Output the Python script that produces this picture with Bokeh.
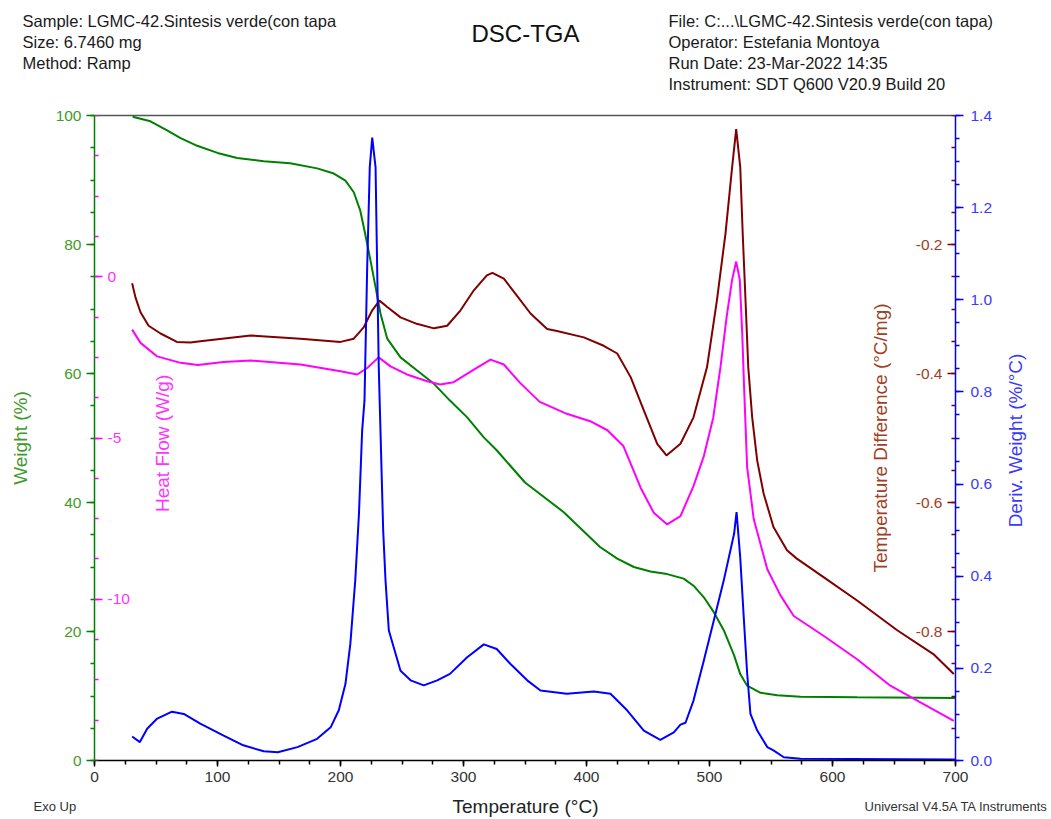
import math
import numpy as np
from bokeh.plotting import figure
from bokeh.layouts import column, row
from bokeh.models import Range1d, LinearAxis, FixedTicker, PrintfTickFormatter
from bokeh.core.properties import value
from bokeh.embed import file_html
from bokeh.resources import INLINE

# ---- TGA: weight (%) ----
weight_temp = [31, 45.5, 59, 70, 83.5, 100, 116, 137.6, 159, 181, 194.6, 204, 210.8, 216,
               220, 224.4, 228.5, 232.5, 238, 248.8, 262, 276, 289, 303, 316.5, 327, 350,
               381.5, 411, 425, 438.5, 452, 465.6, 479, 487, 495.4, 503.5, 511.6, 520, 525,
               530.6, 541.5, 555, 574, 620, 700]
weight_pct = [99.8, 99.1, 97.7, 96.5, 95.3, 94.2, 93.4, 92.9, 92.6, 91.8, 91.0, 89.9, 88.1,
              85.3, 81.7, 77.5, 73.4, 69.3, 65.4, 62.5, 60.5, 58.4, 55.8, 53.2, 50.1, 48.1,
              43.1, 38.5, 33.1, 31.3, 30.0, 29.3, 28.9, 28.2, 27.1, 25.3, 23.0, 20.2, 16.3,
              13.4, 11.6, 10.5, 10.1, 9.9, 9.8, 9.7]

# ---- DTA: temperature difference (°C/mg) ----
tdiff_temp = [30.6, 33.3, 37.4, 44, 53.7, 67, 78, 86, 127, 167.5, 200, 210.8, 219, 225.8,
              231.7, 238, 248.8, 262, 276, 286.7, 297.6, 308.4, 319, 323.5, 332.8, 343.7,
              354.5, 368, 376, 397.8, 414, 425, 436, 446.6, 457.5, 465, 476.4, 487, 498, 506,
              513, 518.4, 521.7, 525, 527, 529.3, 531.5, 534.7, 538.8, 544, 552, 563, 571,
              593, 620, 652.6, 682, 698.6]
tdiff = [-0.260, -0.282, -0.305, -0.326, -0.338, -0.351, -0.352, -0.350, -0.341, -0.346,
         -0.351, -0.346, -0.328, -0.302, -0.287, -0.297, -0.313, -0.323, -0.330, -0.326,
         -0.302, -0.271, -0.248, -0.244, -0.253, -0.280, -0.307, -0.331, -0.334, -0.344,
         -0.357, -0.369, -0.406, -0.457, -0.509, -0.527, -0.509, -0.468, -0.390, -0.287,
         -0.183, -0.080, -0.021, -0.080, -0.183, -0.287, -0.390, -0.468, -0.535, -0.586,
         -0.638, -0.674, -0.687, -0.716, -0.752, -0.798, -0.835, -0.866]

# ---- DSC: heat flow (W/g) ----
hf_temp = [30.6, 37.4, 51, 70, 84, 105, 127, 167.5, 200, 213.6, 221.7, 231, 240.7, 254,
           270.5, 281, 292, 308.4, 322, 332.8, 346, 362, 384, 403, 417, 430, 444, 454.7,
           465.6, 476.4, 487, 495.4, 503, 509, 514, 518.4, 521.7, 524.6, 526.6, 528, 529.3,
           530.6, 536, 547, 557.7, 568.5, 593, 620, 647, 674, 698.6]
heat_flow = [-1.64, -2.05, -2.47, -2.67, -2.74, -2.64, -2.60, -2.72, -2.93, -3.03, -2.83,
             -2.50, -2.78, -3.03, -3.24, -3.34, -3.27, -2.88, -2.57, -2.72, -3.29, -3.88,
             -4.25, -4.48, -4.76, -5.25, -6.54, -7.32, -7.68, -7.42, -6.49, -5.56, -4.38,
             -2.78, -1.23, -0.09, 0.47, -0.09, -1.74, -3.29, -4.60, -5.90, -7.52, -9.07,
             -9.88, -10.52, -11.14, -11.86, -12.68, -13.25, -13.77]

# ---- DTG: derivative weight (%/°C) ----
dtg_temp = [30.6, 36.9, 42.8, 51, 63, 72.6, 86, 105, 121, 137.6, 149, 165, 181, 192, 198.6,
            204, 208, 212, 215, 217.6, 219.5, 221.7, 223.8, 225.8, 228.5, 229.8, 231.1,
            232.5, 234.7, 236.6, 239.3, 248.8, 257, 267.7, 278.6, 289, 303, 316.5, 327, 338,
            351.8, 362.6, 384, 406, 419.5, 433, 446.6, 460, 471, 476.4, 480.5, 487, 495.4,
            503.5, 511.6, 520, 522, 525, 528, 530.6, 533.3, 538.8, 547, 552, 560.4, 574, 700]
deriv_weight = [0.052, 0.040, 0.069, 0.091, 0.106, 0.101, 0.080, 0.054, 0.033, 0.020, 0.018,
                0.029, 0.047, 0.072, 0.109, 0.166, 0.253, 0.391, 0.535, 0.716, 0.781, 1.071,
                1.288, 1.352, 1.288, 1.071, 0.854, 0.716, 0.499, 0.391, 0.282, 0.195, 0.174,
                0.163, 0.174, 0.188, 0.224, 0.252, 0.242, 0.210, 0.174, 0.152, 0.145, 0.150,
                0.145, 0.109, 0.065, 0.045, 0.061, 0.078, 0.082, 0.130, 0.217, 0.304, 0.391,
                0.492, 0.539, 0.440, 0.304, 0.190, 0.101, 0.065, 0.029, 0.022, 0.007, 0.004,
                0.002]

# ---- page texts ----
header_left = ["Sample: LGMC-42.Sintesis verde(con tapa", "Size:  6.7460 mg", "Method: Ramp"]
header_right = ["File: C:...\\LGMC-42.Sintesis verde(con tapa)", "Operator: Estefania Montoya",
                "Run Date: 23-Mar-2022 14:35", "Instrument: SDT Q600 V20.9 Build 20"]
chart_title = "DSC-TGA"
footer_left = "Exo Up"
footer_right = "Universal V4.5A TA Instruments"
x_title = "Temperature (°C)"
dtg_title = "Deriv. Weight (%/°C)"

FONT = "Liberation Sans"
W = 1051
SIDE_W = 50
HEADER_H, MAIN_H, FOOTER_H = 100, 692, 27
GREEN, GREEN_TXT = "#008000", "#3f9a2a"
BROWN, BROWN_TXT = "#800000", "#a0401e"
MAGENTA, MAGENTA_TXT = "#ff00ff", "#ff33ff"
BLUE, BLUE_TXT = "#0000ff", "#3a3aff"
TICK_FS = "15.5px"
LABEL_FS = "19px"

# ---------------- main plot ----------------
p = figure(width=W - SIDE_W, height=MAIN_H, x_range=Range1d(0, 700), y_range=Range1d(0, 100),
           output_backend="svg", toolbar_location=None,
           min_border_left=94, min_border_right=W - SIDE_W - 955, min_border_top=15,
           min_border_bottom=32)
p.outline_line_color = None
p.xgrid.visible = False
p.ygrid.visible = False
p.extra_y_ranges = {"hf": Range1d(-15, 5), "td": Range1d(-1.0, 0.0), "dw": Range1d(0, 1.4)}


def style(ax, line_color, tick_color, text_color, label=None):
    ax.axis_line_color = line_color
    ax.axis_line_width = 1.5
    ax.major_tick_line_color = tick_color
    ax.minor_tick_line_color = tick_color
    ax.major_tick_line_width = 1.5
    ax.minor_tick_line_width = 1.5
    ax.major_tick_in = 0
    ax.major_tick_out = 8
    ax.minor_tick_in = 0
    ax.minor_tick_out = 4
    ax.major_label_text_color = text_color
    ax.major_label_text_font = FONT
    ax.major_label_text_font_size = TICK_FS
    ax.major_label_standoff = 5
    ax.axis_label = label
    ax.axis_label_text_color = text_color
    ax.axis_label_text_font = FONT
    ax.axis_label_text_font_size = LABEL_FS
    ax.axis_label_text_font_style = "normal"


# temperature axis
xa = p.xaxis[0]
xa.ticker = FixedTicker(ticks=list(range(0, 701, 100)), minor_ticks=list(range(0, 701, 25)))
style(xa, "#000000", "#000000", "#333333")
xa.major_tick_out = 6

# weight axis
wa = p.yaxis[0]
wa.ticker = FixedTicker(ticks=list(range(0, 101, 20)), minor_ticks=list(range(0, 101, 5)))
style(wa, GREEN, GREEN, GREEN_TXT, "Weight (%)")
wa.axis_label_standoff = 22

# derivative weight axis (outer right); its title sits in the side strip
dwa = LinearAxis(y_range_name="dw",
                 ticker=FixedTicker(ticks=list(np.round(np.arange(0, 1.41, 0.2), 1)),
                                    minor_ticks=list(np.round(np.arange(0, 1.401, 0.05), 2))),
                 formatter=PrintfTickFormatter(format="%.1f"))
style(dwa, BLUE, BLUE, BLUE_TXT)
dwa.major_label_standoff = 7
p.add_layout(dwa, "right")

# heat flow axis, drawn along the left frame edge with labels inside
hfa = LinearAxis(y_range_name="hf", fixed_location=0,
                 ticker=FixedTicker(ticks=[-10, -5, 0],
                                    minor_ticks=list(np.arange(-15, 5.01, 1.25))),
                 formatter=PrintfTickFormatter(format="%d"))
style(hfa, None, MAGENTA, MAGENTA_TXT)
p.add_layout(hfa, "right")

# bare axis carrying the heat-flow title (bottom-to-top, starting mid-bounds)
hft = LinearAxis(y_range_name="hf", ticker=FixedTicker(ticks=[]), bounds=(-9.28, -5.28),
                 fixed_location=0)
style(hft, None, None, MAGENTA_TXT, "Heat Flow (W/g)")
hft.major_tick_out = 0
hft.minor_tick_out = 0
hft.major_label_standoff = 0
hft.axis_label_standoff = 68
hft.axis_label_orientation = math.pi / 2
p.add_layout(hft, "right")

# temperature difference axis, drawn along the right frame edge with labels inside
tda = LinearAxis(y_range_name="td", fixed_location=700,
                 ticker=FixedTicker(ticks=[-0.8, -0.6, -0.4, -0.2],
                                    minor_ticks=list(np.round(np.arange(-1.0, 0.001, 0.05), 2))),
                 formatter=PrintfTickFormatter(format="%.1f"))
style(tda, None, BROWN, BROWN_TXT, "Temperature Difference (°C/mg)")
tda.axis_label_standoff = 22
p.add_layout(tda, "left")

# top frame edge
top = LinearAxis(ticker=FixedTicker(ticks=[]), major_label_text_font_size="0px")
top.axis_line_color = "#555555"
top.axis_line_width = 1.5
top.major_tick_out = 0
top.minor_tick_out = 0
top.major_label_standoff = 0
p.add_layout(top, "above")

# curves
p.line(weight_temp, weight_pct, line_color=GREEN, line_width=2)
p.line(tdiff_temp, tdiff, line_color=BROWN, line_width=2, y_range_name="td")
p.line(hf_temp, heat_flow, line_color=MAGENTA, line_width=2, y_range_name="hf")
p.line(dtg_temp, deriv_weight, line_color=BLUE, line_width=2, y_range_name="dw")


# ---------------- text strips (pixel coordinates) ----------------
def strip(width, height):
    f = figure(width=width, height=height, x_range=Range1d(0, width),
               y_range=Range1d(height, 0), output_backend="svg", toolbar_location=None,
               x_axis_type=None, y_axis_type=None, min_border=0)
    f.outline_line_color = None
    f.xgrid.visible = False
    f.ygrid.visible = False
    if "frame_align" in f.properties():
        f.frame_align = False
    return f


def put(f, xs, ys, texts, size, align, color, angle=0.0):
    f.text(x=xs, y=ys, text=texts, text_font=value(FONT), text_font_size=value(size),
           text_align=align, text_baseline="middle", text_color=color, angle=angle)


header = strip(W, HEADER_H)
put(header, [22] * len(header_left), [20 + 21 * i for i in range(len(header_left))],
    header_left, "16.5px", "left", "#1a1a1a")
put(header, [668] * len(header_right), [20 + 21 * i for i in range(len(header_right))],
    header_right, "16.5px", "left", "#1a1a1a")
put(header, [525], [33], [chart_title], "24px", "center", "#111111")

side = strip(SIDE_W, MAIN_H)
put(side, [1015 - (W - SIDE_W)], [440 - HEADER_H], [dtg_title], LABEL_FS, "center", BLUE_TXT,
    angle=math.pi / 2)

footer = strip(W, FOOTER_H)
put(footer, [33], [14], [footer_left], "13px", "left", "#333333")
put(footer, [525], [14], [x_title], LABEL_FS, "center", "#222222")
put(footer, [1048], [14], [footer_right], "13px", "right", "#333333")

page = column(header, row(p, side, spacing=0), footer, spacing=0)
open("out.html", "w").write(file_html(page, INLINE))
